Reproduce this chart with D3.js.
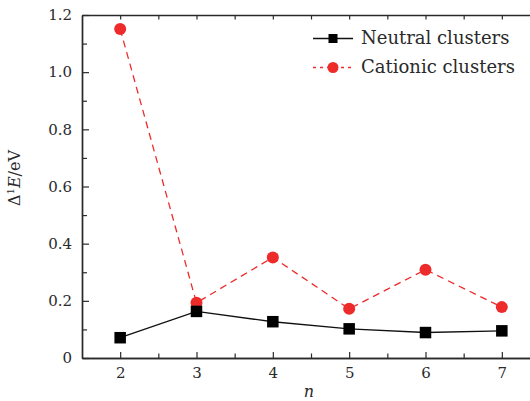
<!DOCTYPE html>
<html>
<head>
<meta charset="utf-8">
<script src="https://cdn.jsdelivr.net/npm/d3@7"></script>
</head>
<body style="margin:0; background:#fff">
<svg id="drawing_region"></svg>
<script>
const nValues = [2, 3, 4, 5, 6, 7];
const neutral = [0.071, 0.163, 0.127, 0.102, 0.089, 0.095];
const cationic = [1.151, 0.193, 0.352, 0.172, 0.309, 0.178];
const yTicks = [0, 0.2, 0.4, 0.6, 0.8, 1.0, 1.2];
const yTickLabels = ['0', '0.2', '0.4', '0.6', '0.8', '1.0', '1.2'];
const seriesNames = ['Neutral clusters', 'Cationic clusters'];

const width = 530, height = 401;
const margin = { top: 15, left: 82, bottom: 43 };
const red = '#ee2b2b';
const ink = '#2a2a2a';
const FONT = 'DejaVu Serif';

const svg = d3.select('#drawing_region')
    .attr('width', width)
    .attr('height', height);

// x domain runs past the right edge, the picture is cropped there
const xscale = d3.scaleLinear().domain([1.5, 7.5]).range([margin.left, 540]);
const yscale = d3.scaleLinear().domain([0, 1.2]).range([height - margin.bottom, margin.top]);

const xaxis = d3.axisBottom(xscale)
    .tickValues(nValues)
    .tickSizeInner(-6).tickSizeOuter(0)
    .tickPadding(9)
    .tickFormat(d3.format('d'));
const xminor = d3.axisBottom(xscale)
    .tickValues(nValues.map(d => d + 0.5))
    .tickSizeInner(-4.5).tickSizeOuter(0)
    .tickFormat('');
const xtop = d3.axisTop(xscale)
    .tickValues(d3.range(2, 7.6, 0.5))
    .tickSizeInner(-4.5).tickSizeOuter(0)
    .tickFormat('');

const yaxis = d3.axisLeft(yscale)
    .tickValues(yTicks)
    .tickSizeInner(-7).tickSizeOuter(0)
    .tickPadding(10)
    .tickFormat((d, i) => yTickLabels[i]);
const yminor = d3.axisLeft(yscale)
    .tickValues(yTicks.slice(0, -1).map(d => d + 0.1))
    .tickSizeInner(-5).tickSizeOuter(0)
    .tickFormat('');

function styleAxis(g) {
    g.attr('font-family', FONT).attr('font-size', 15);
    g.selectAll('path').attr('stroke', ink).attr('stroke-width', 1.4);
    g.selectAll('line').attr('stroke', ink).attr('stroke-width', 1.2);
    g.selectAll('text').attr('fill', ink).attr('font-family', FONT);
}

const bottom = height - margin.bottom;
svg.append('g').attr('transform', `translate(0,${bottom})`).call(xaxis).call(styleAxis);
svg.append('g').attr('transform', `translate(0,${bottom})`).call(xminor).call(styleAxis);
svg.append('g').attr('transform', `translate(0,${margin.top})`).call(xtop).call(styleAxis);
svg.append('g').attr('transform', `translate(${margin.left},0)`).call(yaxis).call(styleAxis);
svg.append('g').attr('transform', `translate(${margin.left},0)`).call(yminor).call(styleAxis);

// axis titles
svg.append('text')
    .attr('x', xscale(4.5) - 2)
    .attr('y', 397)
    .attr('text-anchor', 'middle')
    .attr('font-family', FONT)
    .attr('font-size', 16)
    .attr('font-style', 'italic')
    .attr('fill', ink)
    .text('n');

const ylab = svg.append('text')
    .attr('transform', 'translate(20,178) rotate(-90)')
    .attr('text-anchor', 'middle')
    .attr('font-family', FONT)
    .attr('font-size', 16)
    .attr('fill', ink);
ylab.append('tspan').text('Δ');
ylab.append('tspan').attr('dy', -6).attr('font-size', 10).text('1');
ylab.append('tspan').attr('dy', 6).attr('font-style', 'italic').text('E');
ylab.append('tspan').text('/eV');

const line = d3.line()
    .x((d, i) => xscale(nValues[i]))
    .y(d => yscale(d));

// cationic series
svg.append('path')
    .datum(cationic)
    .attr('fill', 'none')
    .attr('stroke', red)
    .attr('stroke-width', 1.3)
    .attr('stroke-dasharray', '7,5')
    .attr('d', line);
svg.append('g').selectAll('circle')
    .data(cationic)
    .join('circle')
    .attr('cx', (d, i) => xscale(nValues[i]))
    .attr('cy', d => yscale(d))
    .attr('r', 6)
    .attr('fill', red);

// neutral series
svg.append('path')
    .datum(neutral)
    .attr('fill', 'none')
    .attr('stroke', '#111')
    .attr('stroke-width', 1.4)
    .attr('d', line);
const sq = 11.5;
svg.append('g').selectAll('rect')
    .data(neutral)
    .join('rect')
    .attr('x', (d, i) => xscale(nValues[i]) - sq / 2)
    .attr('y', d => yscale(d) - sq / 2)
    .attr('width', sq)
    .attr('height', sq)
    .attr('fill', '#000');

// legend
const legend = svg.append('g');
const lx = 313, ly = [38.5, 67.5];
legend.append('line')
    .attr('x1', lx).attr('x2', lx + 40)
    .attr('y1', ly[0]).attr('y2', ly[0])
    .attr('stroke', '#111').attr('stroke-width', 1.4);
legend.append('rect')
    .attr('x', lx + 20 - 4.5).attr('y', ly[0] - 4.5)
    .attr('width', 9).attr('height', 9)
    .attr('fill', '#000');
legend.append('line')
    .attr('x1', lx).attr('x2', lx + 40)
    .attr('y1', ly[1]).attr('y2', ly[1])
    .attr('stroke', red).attr('stroke-width', 1.3)
    .attr('stroke-dasharray', '3,4');
legend.append('circle')
    .attr('cx', lx + 20).attr('cy', ly[1])
    .attr('r', 5.5)
    .attr('fill', red);
legend.selectAll('text.lbl')
    .data(seriesNames)
    .join('text')
    .attr('class', 'lbl')
    .attr('x', 361)
    .attr('y', (d, i) => ly[i] + 5.5)
    .attr('font-family', FONT)
    .attr('font-size', 18)
    .attr('fill', ink)
    .text(d => d);
</script>
</body>
</html>
